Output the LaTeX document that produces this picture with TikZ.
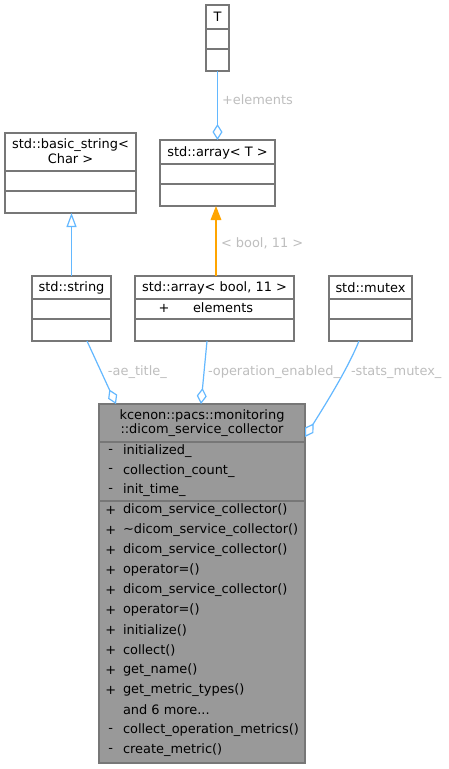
\documentclass[tikz,border=0pt]{standalone}
\usepackage{fontspec}
\setmainfont{DejaVu Sans}
\usetikzlibrary{arrows.meta,calc}
\definecolor{boxc}{HTML}{777777}
\definecolor{curfill}{HTML}{999999}
\definecolor{edgec}{HTML}{63B8FF}
\definecolor{labc}{HTML}{BEBEBE}
\definecolor{inhc}{HTML}{FFA500}
\newcommand\clsbox[6]{\node[#6, minimum width={(#4)*0.75pt}, minimum height={(#5)*0.75pt}] (#1) at (#2,#3) {};}
\begin{document}
\begin{tikzpicture}[x=0.75pt, y=-0.75pt,
  font=\fontsize{9.7pt}{11pt}\selectfont,
  cls/.style={rectangle, draw=boxc, fill=white, line width=0.85pt, inner sep=0pt, outer sep=0pt, anchor=north west},
  cur/.style={cls, fill=curfill},
  sepl/.style={draw=boxc, line width=0.85pt},
  txt/.style={inner sep=0pt, outer sep=0pt, text=black},
  mem/.style={txt, anchor=west},
  edge/.style={draw=edgec, line width=0.9pt},
  elab/.style={txt, text=labc, anchor=west},
  agg/.style={-{Diamond[open, length=12pt, width=7.5pt]}},
  inh/.style={-{Triangle[open, length=10.5pt, width=7.5pt]}},
  tinh/.style={-{Triangle[length=10.5pt, width=8pt]}}
]
\fill[white] (0,0) rectangle (449,769);
\useasboundingbox (0,0) rectangle (449,769);

% ---- class boxes
\clsbox{T}{206}{5}{23}{66}{cls}
\draw[sepl] (206,29) -- (229,29);
\draw[sepl] (206,49) -- (229,49);
\node[txt] (tT) at (217.5,17) {T};

\clsbox{bs}{5}{133}{131}{80}{cls}
\draw[sepl] (5,171) -- (136,171);
\draw[sepl] (5,191) -- (136,191);
\node[txt] (tbs1) at (70.5,145) {std::basic\_string<};
\node[txt] (tbs2) at (70.5,159) {Char >};

\clsbox{arrT}{160}{140}{115}{66}{cls}
\draw[sepl] (160,164) -- (275,164);
\draw[sepl] (160,184) -- (275,184);
\node[txt] (tarrT) at (217.5,152.5) {std::array< T >};

\clsbox{str}{32}{276}{79}{65}{cls}
\draw[sepl] (32,299) -- (111,299);
\draw[sepl] (32,319) -- (111,319);
\node[txt] (tstr) at (71.5,288) {std::string};

\clsbox{arrb}{135}{276}{159}{65}{cls}
\draw[sepl] (135,299) -- (294,299);
\draw[sepl] (135,319) -- (294,319);
\node[txt] (tarrb) at (214.5,288) {std::array< bool, 11 >};
\node[txt] (parrb) at (164,308) {+};
\node[mem] (earrb) at (193,308) {elements};

\clsbox{mtx}{329}{276}{83}{65}{cls}
\draw[sepl] (329,299) -- (412,299);
\draw[sepl] (329,319) -- (412,319);
\node[txt] (tmtx) at (370.5,288) {std::mutex};

\clsbox{main}{99}{404}{206}{359}{cur}
\draw[sepl] (99,442) -- (305,442);
\draw[sepl] (99,501) -- (305,501);
\node[txt] (tm1) at (202,416) {kcenon::pacs::monitoring};
\node[txt] (tm2) at (202,430) {::dicom\_service\_collector};

\node[txt] (v1) at (110.7,451) {-};   \node[mem] (m1) at (123,451) {initialized\_};
\node[txt] (v2) at (110.7,470.7) {-}; \node[mem] (m2) at (123,470.7) {collection\_count\_};
\node[txt] (v3) at (110.7,490.5) {-}; \node[mem] (m3) at (123,490.5) {init\_time\_};
\node[txt] (v4) at (110.7,510) {+};   \node[mem] (m4) at (123,510) {dicom\_service\_collector()};
\node[txt] (v5) at (110.7,530) {+};   \node[mem] (m5) at (123,530) {\textasciitilde dicom\_service\_collector()};
\node[txt] (v6) at (110.7,550) {+};   \node[mem] (m6) at (123,550) {dicom\_service\_collector()};
\node[txt] (v7) at (110.7,570) {+};   \node[mem] (m7) at (123,570) {operator=()};
\node[txt] (v8) at (110.7,590) {+};   \node[mem] (m8) at (123,590) {dicom\_service\_collector()};
\node[txt] (v9) at (110.7,610) {+};   \node[mem] (m9) at (123,610) {operator=()};
\node[txt] (v10) at (110.7,630) {+};  \node[mem] (m10) at (123,630) {initialize()};
\node[txt] (v11) at (110.7,650) {+};  \node[mem] (m11) at (123,650) {collect()};
\node[txt] (v12) at (110.7,670) {+};  \node[mem] (m12) at (123,670) {get\_name()};
\node[txt] (v13) at (110.7,690) {+};  \node[mem] (m13) at (123,690) {get\_metric\_types()};
\node[mem] (m14) at (123,710) {and 6 more...};
\node[txt] (v15) at (110.7,730) {-};  \node[mem] (m15) at (123,730) {collect\_operation\_metrics()};
\node[txt] (v16) at (110.7,750) {-};  \node[mem] (m16) at (123,750) {create\_metric()};

% ---- connectors
\draw[edge, agg] (T.south) -- (arrT.north);
\node[elab] (lelem) at (222,100) {+elements};

\draw[edge, inh] (str.north) -- (str.north |- bs.south);

\coordinate (obS) at ($(arrb.north west)+(81,0)$);
\draw[draw=inhc, line width=0.9pt, fill=inhc, tinh] (obS) -- (obS |- arrT.south);
\node[elab] (lbool) at (221,243) {< bool, 11 >};

\coordinate (aeS) at ($(str.south west)+(55,0)$);
\coordinate (aeE) at ($(main.north west)+(17,0)$);
\draw[edge, agg] (aeS) -- (aeE);
\node[elab] (lae) at (108,372) {-ae\_title\_};

\coordinate (opS) at ($(arrb.south west)+(72,0)$);
\coordinate (opE) at ($(main.north west)+(102,0)$);
\draw[edge, agg] (opS) -- (opE);
\node[elab] (lop) at (208,372) {-operation\_enabled\_};

\coordinate (stS) at ($(mtx.south west)+(30,0)$);
\coordinate (stE) at ($(main.north east)+(0,33)$);
\draw[edge, agg] (stS) .. controls (348,368) and (327,402) .. (stE);
\node[elab] (lst) at (351,372) {-stats\_mutex\_};
\end{tikzpicture}
\end{document}
